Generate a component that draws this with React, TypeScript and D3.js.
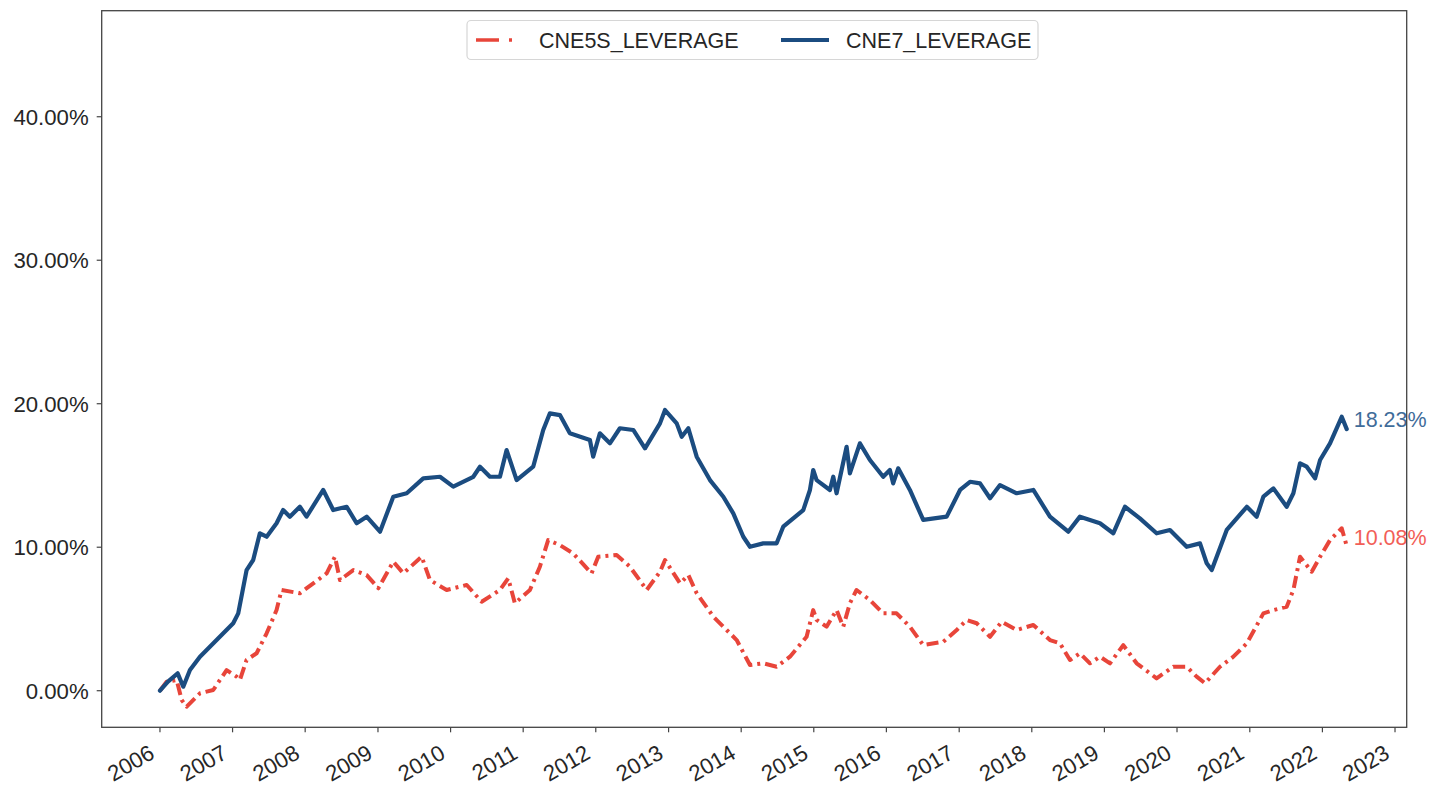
import React from 'react';
import * as d3 from 'd3';

// CNE7_LEVERAGE (decimal year, value in %)
const cne7Years = [2006.0, 2006.11, 2006.244, 2006.321, 2006.413, 2006.551, 2006.78, 2007.009, 2007.078, 2007.193, 2007.284, 2007.376, 2007.469, 2007.606, 2007.697, 2007.789, 2007.927, 2008.019, 2008.248, 2008.385, 2008.57, 2008.707, 2008.845, 2009.028, 2009.211, 2009.396, 2009.624, 2009.854, 2010.037, 2010.313, 2010.405, 2010.542, 2010.68, 2010.772, 2010.91, 2011.138, 2011.276, 2011.368, 2011.506, 2011.643, 2011.919, 2011.964, 2012.056, 2012.194, 2012.331, 2012.515, 2012.676, 2012.882, 2012.951, 2013.112, 2013.181, 2013.272, 2013.387, 2013.57, 2013.754, 2013.891, 2014.029, 2014.121, 2014.304, 2014.488, 2014.579, 2014.855, 2014.947, 2014.992, 2015.039, 2015.222, 2015.268, 2015.314, 2015.452, 2015.497, 2015.635, 2015.773, 2015.956, 2016.048, 2016.093, 2016.162, 2016.323, 2016.506, 2016.828, 2017.012, 2017.149, 2017.287, 2017.425, 2017.562, 2017.792, 2018.021, 2018.25, 2018.502, 2018.663, 2018.939, 2019.122, 2019.283, 2019.489, 2019.719, 2019.903, 2020.133, 2020.316, 2020.408, 2020.477, 2020.683, 2020.959, 2021.095, 2021.187, 2021.325, 2021.508, 2021.6, 2021.692, 2021.784, 2021.899, 2021.968, 2022.105, 2022.266, 2022.335];
const cne7Values = [0.0, 0.63, 1.21, 0.28, 1.44, 2.37, 3.53, 4.7, 5.39, 8.41, 9.11, 10.97, 10.73, 11.67, 12.59, 12.13, 12.82, 12.13, 13.99, 12.59, 12.82, 11.67, 12.13, 11.08, 13.52, 13.76, 14.8, 14.91, 14.22, 14.91, 15.61, 14.91, 14.91, 16.77, 14.68, 15.61, 18.17, 19.33, 19.21, 17.94, 17.47, 16.31, 17.94, 17.24, 18.29, 18.17, 16.89, 18.63, 19.56, 18.63, 17.7, 18.29, 16.31, 14.68, 13.52, 12.36, 10.73, 10.03, 10.27, 10.27, 11.43, 12.59, 13.99, 15.38, 14.68, 13.99, 14.91, 13.76, 17.0, 15.15, 17.24, 16.08, 14.91, 15.38, 14.45, 15.5, 13.99, 11.9, 12.13, 13.99, 14.56, 14.45, 13.41, 14.33, 13.76, 13.99, 12.13, 11.08, 12.13, 11.67, 10.97, 12.82, 12.01, 10.97, 11.2, 10.03, 10.27, 8.88, 8.41, 11.2, 12.82, 12.13, 13.52, 14.1, 12.82, 13.76, 15.85, 15.61, 14.8, 16.08, 17.24, 19.09, 18.23];

// CNE5S_LEVERAGE (decimal year, value in %)
const cne5sYears = [2006.0, 2006.092, 2006.23, 2006.299, 2006.368, 2006.551, 2006.734, 2006.918, 2007.056, 2007.101, 2007.193, 2007.331, 2007.469, 2007.606, 2007.675, 2007.927, 2008.111, 2008.295, 2008.409, 2008.478, 2008.661, 2008.845, 2009.005, 2009.211, 2009.349, 2009.602, 2009.716, 2009.946, 2010.222, 2010.428, 2010.68, 2010.794, 2010.886, 2011.093, 2011.23, 2011.344, 2011.506, 2011.689, 2011.942, 2012.033, 2012.286, 2012.469, 2012.699, 2012.882, 2012.951, 2013.158, 2013.272, 2013.387, 2013.616, 2013.8, 2013.938, 2014.121, 2014.304, 2014.488, 2014.672, 2014.901, 2014.992, 2015.039, 2015.176, 2015.314, 2015.406, 2015.497, 2015.589, 2015.773, 2015.956, 2016.14, 2016.323, 2016.506, 2016.782, 2016.966, 2017.104, 2017.241, 2017.425, 2017.586, 2017.792, 2018.021, 2018.25, 2018.388, 2018.526, 2018.663, 2018.801, 2018.939, 2019.077, 2019.26, 2019.444, 2019.719, 2019.948, 2020.133, 2020.27, 2020.385, 2020.59, 2020.774, 2020.959, 2021.187, 2021.325, 2021.508, 2021.6, 2021.692, 2021.853, 2021.968, 2022.105, 2022.266, 2022.335];
const cne5sValues = [0.0, 0.63, 0.75, -0.65, -1.11, -0.18, 0.05, 1.44, 0.98, 0.75, 2.14, 2.61, 4.0, 5.62, 7.02, 6.79, 7.48, 8.18, 9.34, 7.71, 8.41, 8.06, 7.14, 8.99, 8.18, 9.34, 7.71, 7.02, 7.37, 6.2, 7.02, 7.83, 6.09, 7.02, 8.64, 10.5, 10.15, 9.57, 8.18, 9.34, 9.46, 8.64, 7.02, 8.29, 9.11, 7.48, 8.06, 6.79, 5.16, 4.23, 3.53, 1.79, 1.91, 1.67, 2.37, 3.76, 5.62, 4.93, 4.46, 5.62, 4.46, 6.09, 7.02, 6.32, 5.39, 5.39, 4.46, 3.18, 3.41, 4.23, 4.93, 4.7, 3.76, 4.81, 4.23, 4.58, 3.53, 3.3, 2.14, 2.61, 1.91, 2.37, 1.91, 3.18, 1.91, 0.86, 1.67, 1.67, 0.98, 0.52, 1.67, 2.37, 3.3, 5.39, 5.62, 5.85, 7.02, 9.34, 8.29, 9.34, 10.5, 11.32, 10.08];

const yTickValues = [0, 10, 20, 30, 40];
const xTickYears = [2006, 2007, 2008, 2009, 2010, 2011, 2012, 2013, 2014, 2015, 2016, 2017, 2018, 2019, 2020, 2021, 2022, 2023];
const seriesNames = ['CNE5S_LEVERAGE', 'CNE7_LEVERAGE'];
const xDomainYears = [2005.1975, 2023.161];
const yDomain = [-2.55, 47.39];

const W = 1434;
const H = 798;
const M = { left: 101.7, right: 1406.7, top: 10.7, bottom: 727.3 };
const FONT = '"Liberation Sans", Arial, Helvetica, sans-serif';
const BLUE = '#1b4c80';
const RED = '#e8453a';
const BLUE_TXT = '#3f6c9a';
const RED_TXT = '#f25e57';

function decToDate(y: number): Date {
  const yr = Math.floor(y);
  const s = Date.UTC(yr, 0, 1);
  const e = Date.UTC(yr + 1, 0, 1);
  return new Date(s + (y - yr) * (e - s));
}

export default function App() {
  const x = d3.scaleUtc()
    .domain([decToDate(xDomainYears[0]), decToDate(xDomainYears[1])])
    .range([M.left, M.right]);
  const y = d3.scaleLinear().domain(yDomain).range([M.bottom, M.top]);

  const line = d3.line<[Date, number]>()
    .x((d) => x(d[0]))
    .y((d) => y(d[1]))
    .curve(d3.curveLinear);

  const blueData: [Date, number][] = cne7Years.map((yr, i) => [decToDate(yr), cne7Values[i]]);
  const redData: [Date, number][] = cne5sYears.map((yr, i) => [decToDate(yr), cne5sValues[i]]);

  const blueLast = blueData[blueData.length - 1];
  const redLast = redData[redData.length - 1];

  const fmt = (v: number) => v.toFixed(2) + '%';
  const axisColor = '#444';

  return (
    <svg width={W} height={H} style={{ position: 'absolute', left: 0, top: 0, background: '#fff' }} fontFamily={FONT}>
      <rect x={0} y={0} width={W} height={H} fill="#fff" />
      {/* lines */}
      <path d={line(redData) || ''} fill="none" stroke={RED} strokeWidth={4} strokeDasharray="12 5 3 5" strokeLinejoin="round" />
      <path d={line(blueData) || ''} fill="none" stroke={BLUE} strokeWidth={4.2} strokeLinejoin="round" strokeLinecap="round" />

      {/* end annotations */}
      <text x={x(blueLast[0]) + 7} y={y(blueLast[1]) - 2} fontSize={21.5} fill={BLUE_TXT}>{fmt(blueLast[1])}</text>
      <text x={x(redLast[0]) + 7} y={y(redLast[1]) - 1} fontSize={21.5} fill={RED_TXT}>{fmt(redLast[1])}</text>

      {/* frame */}
      <rect x={M.left} y={M.top} width={M.right - M.left} height={M.bottom - M.top} fill="none" stroke={axisColor} strokeWidth={1.3} />

      {/* y ticks */}
      {yTickValues.map((v) => (
        <g key={'y' + v}>
          <line x1={M.left - 5} x2={M.left} y1={y(v)} y2={y(v)} stroke={axisColor} strokeWidth={1.2} />
          <text x={M.left - 13} y={y(v)} dy="0.36em" textAnchor="end" fontSize={22.2} fill="#262626">{fmt(v)}</text>
        </g>
      ))}

      {/* x ticks */}
      {xTickYears.map((yr) => {
        const tx = x(decToDate(yr));
        return (
          <g key={'x' + yr}>
            <line x1={tx} x2={tx} y1={M.bottom} y2={M.bottom + 5} stroke={axisColor} strokeWidth={1.2} />
            <text transform={`translate(${tx - 4},${M.bottom + 30}) rotate(-30)`} textAnchor="end" fontSize={22.2} fill="#262626">{yr}</text>
          </g>
        );
      })}

      {/* legend */}
      <g>
        <rect x={467} y={20.5} width={571} height={39} rx={4} fill="#fff" fillOpacity={0.85} stroke="#d6d6d6" strokeWidth={1.2} />
        <line x1={476} x2={520} y1={40} y2={40} stroke={RED} strokeWidth={3.6} strokeDasharray="23 10 3 10" />
        <text x={539} y={40} dy="0.36em" fontSize={21.5} fill="#262626">{seriesNames[0]}</text>
        <line x1={781} x2={829} y1={40} y2={40} stroke={BLUE} strokeWidth={3.8} />
        <text x={846} y={40} dy="0.36em" fontSize={21.5} fill="#262626">{seriesNames[1]}</text>
      </g>
    </svg>
  );
}
